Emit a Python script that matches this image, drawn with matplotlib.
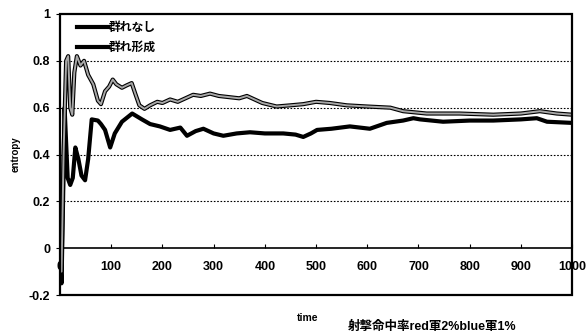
import numpy as np
import matplotlib.pyplot as plt
import matplotlib.patheffects as pe
from matplotlib.patches import Rectangle

plt.rcParams['font.family'] = ['Liberation Sans', 'Noto Sans CJK JP', 'DejaVu Sans']
plt.rcParams['font.weight'] = 'bold'

# 群れなし (black)
t_nashi = [0, 3, 6, 9, 12, 15, 20, 25, 30, 36, 42, 49, 55, 62, 74, 80, 88, 98, 107,
           121, 141, 160, 176, 195, 215, 235, 248, 265, 280, 300, 319, 345, 371, 400,
           436, 460, 475, 490, 502, 530, 566, 605, 638, 670, 690, 703, 748, 800, 846,
           900, 931, 951, 1000]
v_nashi = [0.0, -0.15, 0.2, 0.6, 0.45, 0.30, 0.27, 0.30, 0.43, 0.38, 0.31, 0.29, 0.38,
           0.55, 0.545, 0.53, 0.505, 0.43, 0.49, 0.54, 0.575, 0.55, 0.53, 0.52, 0.505,
           0.515, 0.48, 0.50, 0.51, 0.49, 0.48, 0.49, 0.495, 0.49, 0.49, 0.485, 0.475,
           0.49, 0.505, 0.51, 0.52, 0.51, 0.535, 0.545, 0.555, 0.55, 0.54, 0.545, 0.545,
           0.55, 0.555, 0.54, 0.535]

# 群れ形成 (gray)
t_keisei = [0, 3, 7, 12, 16, 20, 24, 28, 33, 40, 47, 55, 65, 74, 80, 88, 96, 103, 110,
            121, 130, 140, 147, 155, 165, 176, 190, 200, 215, 230, 245, 260, 275, 293,
            310, 330, 350, 365, 380, 395, 423, 450, 475, 500, 527, 560, 600, 645, 670,
            716, 780, 846, 900, 937, 970, 1000]
v_keisei = [0.0, -0.1, 0.4, 0.8, 0.82, 0.6, 0.57, 0.75, 0.82, 0.78, 0.80, 0.74, 0.70,
            0.63, 0.615, 0.67, 0.69, 0.72, 0.70, 0.685, 0.695, 0.705, 0.66, 0.61, 0.595,
            0.61, 0.625, 0.62, 0.635, 0.625, 0.64, 0.655, 0.65, 0.66, 0.65, 0.645, 0.64,
            0.65, 0.635, 0.62, 0.605, 0.61, 0.615, 0.625, 0.62, 0.61, 0.605, 0.60, 0.585,
            0.575, 0.575, 0.57, 0.575, 0.585, 0.575, 0.57]

xticks = [0, 100, 200, 300, 400, 500, 600, 700, 800, 900, 1000]
yticks = [-0.2, 0, 0.2, 0.4, 0.6, 0.8, 1]
ylabels = ['-0.2', '0', '0.2', '0.4', '0.6', '0.8', '1']

fig = plt.figure(figsize=(5.88, 3.33), dpi=100)
ax = fig.add_axes([0.102, 0.114, 0.871, 0.844])

ax.plot(t_nashi, v_nashi, color='black', lw=3.0, label='群れなし', zorder=3)
ax.plot(t_keisei, v_keisei, color='#a8a8a8', lw=1.4, label='群れ形成', zorder=4,
        path_effects=[pe.Stroke(linewidth=3.0, foreground='black'), pe.Normal()])

ax.set_xlim(0, 1000)
ax.set_ylim(-0.2, 1)
for y in [0.2, 0.4, 0.6, 0.8]:
    ax.axhline(y, color='black', lw=0.8, ls=(0, (1.5, 1.5)), zorder=1)

for s in ['top', 'right', 'left']:
    ax.spines[s].set_visible(False)
ax.spines['bottom'].set_position(('data', 0))
ax.spines['bottom'].set_linewidth(1.2)
ax.add_patch(Rectangle((0, 0), 1, 1, transform=ax.transAxes, fill=False,
                       lw=1.6, ec='black', zorder=5, clip_on=False))

ax.set_xticks(xticks)
ax.set_xticklabels([str(x) for x in xticks], fontsize=9, fontweight='bold')
ax.tick_params(axis='x', direction='in', length=3, pad=9)
ax.set_yticks(yticks)
ax.set_yticklabels(ylabels, fontsize=9, fontweight='bold')
ax.tick_params(axis='y', direction='out', length=3, pad=4)

ax.set_ylabel('entropy', fontsize=7, fontweight='bold', labelpad=6)

fig.text(0.524, 0.035, 'time', fontsize=7.5, fontweight='bold', ha='center')
fig.text(0.735, 0.008, '射撃命中率red軍2%blue軍1%', fontsize=9, fontweight='bold', ha='center')

leg = ax.legend(loc='upper left', frameon=False, fontsize=8.5, handlelength=2.6,
                handletextpad=0.1, borderaxespad=0.2, labelspacing=0.65,
                bbox_to_anchor=(0.02, 0.995))
for txt in leg.get_texts():
    txt.set_fontweight('bold')
for h in leg.get_lines():
    h.set_linewidth(3.0)
    h.set_color('black')
    h.set_path_effects([])

fig.savefig('out.png', dpi=100)
